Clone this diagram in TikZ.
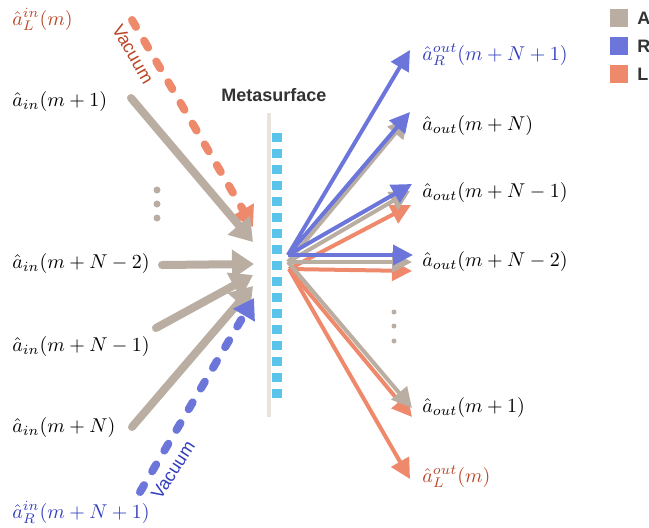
\documentclass[tikz,border=0pt]{standalone}
\usepackage{fontspec}
\newfontfamily\labelfont{Liberation Sans}
\usetikzlibrary{arrows.meta}

\definecolor{beam}{RGB}{186,174,162}
\definecolor{rbeam}{RGB}{108,118,218}
\definecolor{lbeam}{RGB}{239,137,108}
\definecolor{rtext}{RGB}{50,62,190}
\definecolor{ltext}{RGB}{186,70,38}
\definecolor{cell}{RGB}{91,196,234}
\definecolor{surf}{RGB}{232,228,220}

\begin{document}
\begin{tikzpicture}[x=0.5pt,y=-0.5pt,
  lbl/.style={anchor=base west,inner sep=0pt,font=\fontsize{10.3}{12}\selectfont},
  inbeam/.style={draw=beam,line width=4pt,line cap=round,-{Triangle[length=11pt,width=14pt]}},
  vacbeam/.style={line width=4pt,line cap=round,dash pattern=on 4pt off 8pt},
  outbeam/.style={line width=2pt,-{Triangle[length=10pt,width=10pt]}},
  vac/.style={font=\labelfont\fontsize{9}{10}\selectfont,inner sep=0pt}]
  \useasboundingbox (0,0) rectangle (649,527);

  % Metasurface
  \fill[surf] (267,113) rectangle (271,417);
  \foreach \k in {0,...,16}
    \fill[cell] (272,133+16*\k) rectangle (282,142+16*\k);
  \node[font=\labelfont\bfseries\fontsize{9}{10}\selectfont,text=black!80] (ms) at (274,95) {Metasurface};

  % Input labels
  \node[lbl,text=ltext] (inL) at (12,25) {$\hat{a}^{in}_{L}(m)$};
  \node[lbl] (in1)  at (12,106) {$\hat{a}_{in}(m+1)$};
  \node[lbl] (inN2) at (12,268) {$\hat{a}_{in}(m+N-2)$};
  \node[lbl] (inN1) at (12,351) {$\hat{a}_{in}(m+N-1)$};
  \node[lbl] (inN)  at (12,432) {$\hat{a}_{in}(m+N)$};
  \node[lbl,text=rtext] (inR) at (12,518) {$\hat{a}^{in}_{R}(m+N+1)$};
  \foreach \yy in {190,204,218} \fill[beam] (157,\yy) circle (1.75pt);

  % Incoming beams
  \coordinate (vL0) at (132,20);  \coordinate (vL1) at (253,227);
  \coordinate (a10) at (131,98);  \coordinate (a11) at (253,242);
  \coordinate (a20) at (162,265); \coordinate (a21) at (254,264);
  \coordinate (a30) at (156,328); \coordinate (a31) at (253,275);
  \coordinate (a40) at (132,427); \coordinate (a41) at (253,286);
  \coordinate (vR0) at (140,492); \coordinate (vR1) at (254,298);

  \draw[vacbeam,draw=lbeam,-{Triangle[length=10pt,width=12pt,fill=lbeam]}] (vL0) -- (vL1);
  \draw[inbeam] (a10) -- (a11);
  \draw[inbeam] (a20) -- (a21);
  \draw[inbeam] (a30) -- (a31);
  \draw[inbeam] (a40) -- (a41);
  \draw[vacbeam,draw=rbeam,-{Triangle[length=10pt,width=12pt,fill=rbeam]}] (vR0) -- (vR1);

  \node[vac,text=ltext,rotate=-60] (vacL) at (133,54) {Vacuum};
  \node[vac,text=rtext,rotate=57] (vacR) at (173,470) {Vacuum};

  % Outgoing beams
  \coordinate (sR) at (288,255);
  \coordinate (sA) at (288,262);
  \coordinate (sL) at (289,269);
  \foreach \tx/\ty in {411/205,412/271,412/417,410/479}
    \draw[outbeam,draw=lbeam,fill=lbeam] (sL) -- (\tx,\ty);
  \foreach \tx/\ty in {408/118,410/191,412/262,412/408}
    \draw[outbeam,draw=beam,fill=beam] (sA) -- (\tx,\ty);
  \foreach \tx/\ty in {410/50,410/112,412/184,413/255}
    \draw[outbeam,draw=rbeam,fill=rbeam] (sR) -- (\tx,\ty);

  % Output labels
  \node[lbl,text=rtext] (outR) at (422,60) {$\hat{a}^{out}_{R}(m+N+1)$};
  \node[lbl] (outN)  at (422,130) {$\hat{a}_{out}(m+N)$};
  \node[lbl] (outN1) at (422,197) {$\hat{a}_{out}(m+N-1)$};
  \node[lbl] (outN2) at (422,266) {$\hat{a}_{out}(m+N-2)$};
  \node[lbl] (out1)  at (422,412) {$\hat{a}_{out}(m+1)$};
  \node[lbl,text=ltext] (outL) at (422,482) {$\hat{a}^{out}_{L}(m)$};
  \foreach \yy in {312,326,341} \fill[beam] (394,\yy) circle (1.25pt);

  % Legend
  \foreach \c/\t [count=\i] in {beam/A,rbeam/R,lbeam/L}{
    \fill[\c] (610,-19+28*\i) rectangle (628,-1+28*\i);
    \node[font=\labelfont\bfseries\fontsize{9}{10}\selectfont,text=black!80,anchor=west,inner sep=0pt] (key\i) at (637,-10+28*\i) {\t};
  }
\end{tikzpicture}
\end{document}
